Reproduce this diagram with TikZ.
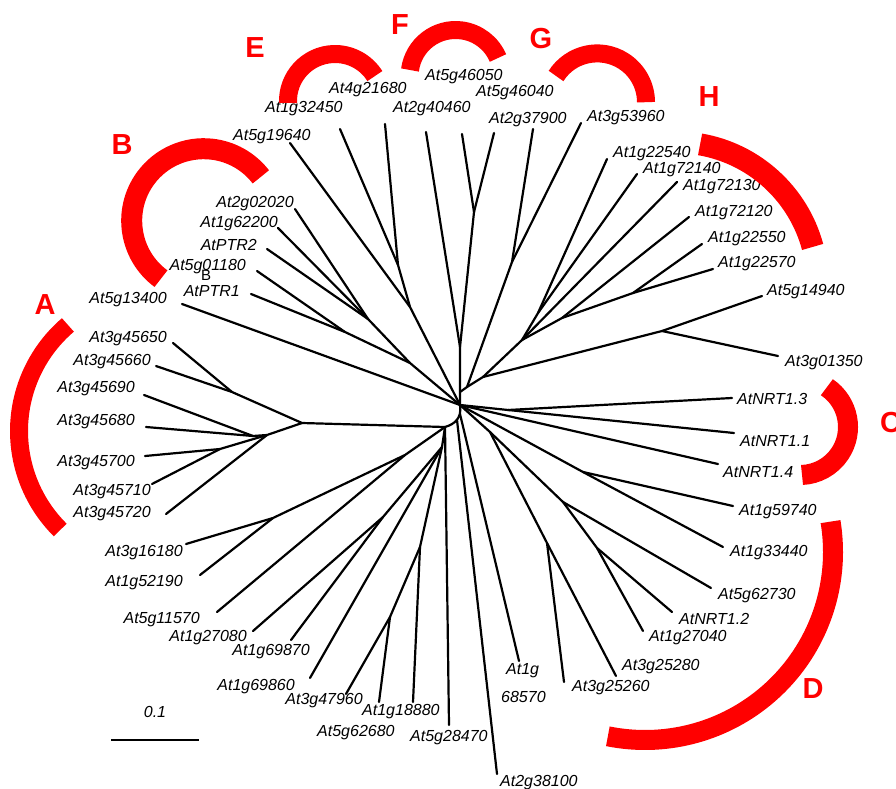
\documentclass[tikz,border=0pt]{standalone}
\usepackage{fontspec}
\setmainfont{Liberation Sans}
\begin{document}
\begin{tikzpicture}[x=1pt,y=-1pt,
  br/.style={line width=2.2pt, line join=round, line cap=round},
  lab/.style={font=\fontsize{16}{16}\selectfont\itshape, inner sep=0pt},
  grp/.style={font=\fontsize{29}{29}\selectfont\bfseries, text=red, inner sep=0pt},
  redarc/.style={draw=red, line width=18pt}]
\useasboundingbox (0,0) rectangle (896,789);

% ---------- coordinates ----------
\coordinate (C) at (460,405);
\coordinate (J1) at (460,392);
\coordinate (V1) at (460,347);
\coordinate (NF) at (474,212);
\coordinate (NE) at (398,265);
\coordinate (N19) at (410,307);
\coordinate (B1) at (345,332);
\coordinate (B2) at (368,319);
\coordinate (B3) at (410,363);
\coordinate (A0) at (302,423);
\coordinate (A1) at (232,392);
\coordinate (A2) at (253,436);
\coordinate (A3) at (220,449);
\coordinate (A4) at (267,435);
\coordinate (L0) at (445,427);
\coordinate (L1) at (405,455);
\coordinate (L2) at (273,518);
\coordinate (L3) at (442,447);
\coordinate (L4) at (383,517);
\coordinate (L6) at (420,547);
\coordinate (L7) at (390,617);
\coordinate (K1) at (457,420);
\coordinate (K2) at (460,414);
\coordinate (R1) at (467,387);
\coordinate (R2) at (483,377);
\coordinate (G0) at (512,262);
\coordinate (X2) at (522,340);
\coordinate (Y1) at (538,313);
\coordinate (Y2) at (562,318);
\coordinate (Y3) at (633,293);
\coordinate (N5) at (662,331);
\coordinate (NN) at (508,410);
\coordinate (M1) at (583,472);
\coordinate (D0) at (490,432);
\coordinate (D1) at (547,543);
\coordinate (D2) at (563,502);
\coordinate (D3) at (597,548);
% tips
\coordinate (t2g40460) at (426,132);
\coordinate (t5g46050) at (462,134);
\coordinate (t5g46040) at (494,133);
\coordinate (t1g32450) at (340,129);
\coordinate (t4g21680) at (385,124);
\coordinate (t5g19640) at (290,143);
\coordinate (t2g02020) at (295,209);
\coordinate (t1g62200) at (278,228);
\coordinate (tPTR2) at (267,249);
\coordinate (t5g01180) at (257,271);
\coordinate (tPTR1) at (251,294);
\coordinate (t5g13400) at (182,304);
\coordinate (t45650) at (173,343);
\coordinate (t45660) at (156,366);
\coordinate (t45690) at (144,395);
\coordinate (t45680) at (146,427);
\coordinate (t45700) at (145,456);
\coordinate (t45710) at (152,484);
\coordinate (t45720) at (166,514);
\coordinate (t3g16180) at (186,544);
\coordinate (t1g52190) at (200,575);
\coordinate (t5g11570) at (217,612);
\coordinate (t1g27080) at (253,631);
\coordinate (t1g69870) at (291,640);
\coordinate (t1g69860) at (310,678);
\coordinate (t3g47960) at (346,694);
\coordinate (t5g62680) at (379,702);
\coordinate (t1g18880) at (413,702);
\coordinate (t5g28470) at (449,725);
\coordinate (t2g38100) at (497,774);
\coordinate (t1g68570) at (519,661);
\coordinate (t3g25260) at (564,682);
\coordinate (t3g25280) at (616,676);
\coordinate (t1g27040) at (643,631);
\coordinate (tNRT12) at (672,612);
\coordinate (t5g62730) at (711,588);
\coordinate (t1g33440) at (723,547);
\coordinate (t1g59740) at (733,506);
\coordinate (tNRT14) at (718,464);
\coordinate (tNRT11) at (734,433);
\coordinate (tNRT13) at (732,398);
\coordinate (t3g01350) at (778,356);
\coordinate (t5g14940) at (762,296);
\coordinate (t1g22570) at (713,269);
\coordinate (t1g22550) at (702,244);
\coordinate (t1g72120) at (689,217);
\coordinate (t1g72130) at (677,182);
\coordinate (t1g72140) at (637,174);
\coordinate (t1g22540) at (607,159);
\coordinate (t3g53960) at (581,123);
\coordinate (t2g37900) at (533,129);

% ---------- branches ----------
\draw[br] (t2g40460) -- (V1) -- (C);
\draw[br] (t5g46050) -- (NF) -- (V1);
\draw[br] (t5g46040) -- (NF);
\draw[br] (t1g32450) -- (NE) -- (N19) -- (C);
\draw[br] (t4g21680) -- (NE);
\draw[br] (t5g19640) -- (N19);
\draw[br] (t2g02020) -- (B2) -- (B3) -- (C);
\draw[br] (t1g62200) -- (B2);
\draw[br] (tPTR2) -- (B2);
\draw[br] (t5g01180) -- (B1) -- (B3);
\draw[br] (tPTR1) -- (B1);
\draw[br] (t5g13400) -- (C);
% A group
\draw[br] (t45650) -- (A1);
\draw[br] (t45660) -- (A1) -- (A0) -- (L0);
\draw[br] (t45690) -- (A2) -- (A4) -- (A0);
\draw[br] (t45680) -- (A2);
\draw[br] (t45700) -- (A3) -- (A4);
\draw[br] (t45710) -- (A3);
\draw[br] (t45720) -- (A4);
% center arc
\draw[br] (C) .. controls (462,418) and (455,424) .. (L0);
% bottom left
\draw[br] (L0) -- (L1) -- (L2) -- (t3g16180);
\draw[br] (L2) -- (t1g52190);
\draw[br] (L1) -- (t5g11570);
\draw[br] (L0) -- (L3) -- (L4) -- (t1g27080);
\draw[br] (L4) -- (t1g69870);
\draw[br] (L3) -- (t1g69860);
\draw[br] (L3) -- (L6) -- (L7) -- (t3g47960);
\draw[br] (L7) -- (t5g62680);
\draw[br] (L6) -- (t1g18880);
\draw[br] (L0) -- (t5g28470);
\draw[br] (K1) -- (t2g38100);
\draw[br] (K2) -- (t1g68570);
% D group
\draw[br] (C) -- (D0) -- (D2) -- (t5g62730);
\draw[br] (D0) -- (D1) -- (t3g25280);
\draw[br] (D1) -- (t3g25260);
\draw[br] (D2) -- (D3) -- (tNRT12);
\draw[br] (D3) -- (t1g27040);
\draw[br] (C) -- (M1) -- (t1g33440);
\draw[br] (M1) -- (t1g59740);
% NRT
\draw[br] (C) -- (tNRT14);
\draw[br] (C) -- (NN) -- (tNRT13);
\draw[br] (NN) -- (tNRT11);
% upper right
\draw[br] (J1) -- (R1) -- (G0) -- (t2g37900);
\draw[br] (G0) -- (t3g53960);
\draw[br] (R1) -- (R2) -- (N5) -- (t5g14940);
\draw[br] (N5) -- (t3g01350);
\draw[br] (R2) -- (X2) -- (Y1) -- (t1g22540);
\draw[br] (Y1) -- (t1g72140);
\draw[br] (X2) -- (t1g72130);
\draw[br] (X2) -- (Y2) -- (t1g72120);
\draw[br] (Y2) -- (Y3) -- (t1g22550);
\draw[br] (Y3) -- (t1g22570);

% ---------- labels ----------
\node[lab, anchor=west] (n1g32450) at (265,109) {At1g32450};
\node[lab, anchor=west] (n4g21680) at (329,90) {At4g21680};
\node[lab, anchor=west] (n5g46050) at (425,77) {At5g46050};
\node[lab, anchor=west] (n5g46040) at (476,93) {At5g46040};
\node[lab, anchor=west] (n2g40460) at (393,109) {At2g40460};
\node[lab, anchor=west] (n2g37900) at (489,120) {At2g37900};
\node[lab, anchor=west] (n3g53960) at (587,118) {At3g53960};
\node[lab, anchor=west] (n5g19640) at (233,137) {At5g19640};
\node[lab, anchor=west] (n1g22540) at (613,154) {At1g22540};
\node[lab, anchor=west] (n1g72140) at (643,170) {At1g72140};
\node[lab, anchor=west] (n1g72130) at (683,187) {At1g72130};
\node[lab, anchor=west] (n1g72120) at (695,213) {At1g72120};
\node[lab, anchor=west] (n1g22550) at (708,239) {At1g22550};
\node[lab, anchor=west] (n1g22570) at (718,264) {At1g22570};
\node[lab, anchor=west] (n5g14940) at (767,292) {At5g14940};
\node[lab, anchor=west] (n3g01350) at (785,363) {At3g01350};
\node[lab, anchor=west] (nNRT13) at (737,399) {AtNRT1.3};
\node[lab, anchor=west] (nNRT11) at (740,441) {AtNRT1.1};
\node[lab, anchor=west] (nNRT14) at (723,472) {AtNRT1.4};
\node[lab, anchor=west] (n1g59740) at (739,512) {At1g59740};
\node[lab, anchor=west] (n1g33440) at (730,553) {At1g33440};
\node[lab, anchor=west] (n5g62730) at (718,596) {At5g62730};
\node[lab, anchor=west] (nNRT12) at (679,619) {AtNRT1.2};
\node[lab, anchor=west] (n1g27040) at (649,638) {At1g27040};
\node[lab, anchor=west] (n3g25280) at (622,667) {At3g25280};
\node[lab, anchor=west] (n3g25260) at (572,688) {At3g25260};
\node[lab, anchor=west] (n1ga) at (506,671) {At1g};
\node[lab, anchor=west] (n1gb) at (501,697) {68570};
\node[lab, anchor=west] (n2g38100) at (500,783) {At2g38100};
\node[lab, anchor=west] (n5g28470) at (410,738) {At5g28470};
\node[lab, anchor=west] (n5g62680) at (317,733) {At5g62680};
\node[lab, anchor=west] (n1g18880) at (362,712) {At1g18880};
\node[lab, anchor=east] (n3g47960) at (363,701) {At3g47960};
\node[lab, anchor=east] (n1g69860) at (295,687) {At1g69860};
\node[lab, anchor=east] (n1g69870) at (310,652) {At1g69870};
\node[lab, anchor=east] (n1g27080) at (247,638) {At1g27080};
\node[lab, anchor=east] (n5g11570) at (200,620) {At5g11570};
\node[lab, anchor=east] (n1g52190) at (183,583) {At1g52190};
\node[lab, anchor=east] (n3g16180) at (183,553) {At3g16180};
\node[lab, anchor=east] (n45720) at (151,514) {At3g45720};
\node[lab, anchor=east] (n45710) at (151,492) {At3g45710};
\node[lab, anchor=east] (n45700) at (135,463) {At3g45700};
\node[lab, anchor=east] (n45680) at (135,422) {At3g45680};
\node[lab, anchor=east] (n45690) at (135,389) {At3g45690};
\node[lab, anchor=east] (n45660) at (151,362) {At3g45660};
\node[lab, anchor=east] (n45650) at (167,339) {At3g45650};
\node[lab, anchor=east] (n5g13400) at (167,300) {At5g13400};
\node[lab, anchor=east] (nPTR1) at (240,291) {AtPTR1};
\node[lab, anchor=east] (n5g01180) at (246,267) {At5g01180};
\node[lab, anchor=east] (nPTR2) at (257,245) {AtPTR2};
\node[lab, anchor=east] (n1g62200) at (278,224) {At1g62200};
\node[lab, anchor=east] (n2g02020) at (294,204) {At2g02020};
\node[font=\fontsize{15}{15}\selectfont, inner sep=0pt] (strayB) at (206,275) {B};

% scale bar
\coordinate (sb1) at (111,740);
\coordinate (sb2) at (199,740);
\draw[line width=2.2pt] (sb1) -- (sb2);
\node[lab] (sbl) at (155,712) {0.1};

% ---------- red group arcs ----------
\coordinate (cA) at (158.5,431);
\draw[redarc] (cA) ++(134.8:139.5) arc[start angle=134.8, end angle=229.5, radius=139.5];
\coordinate (cB) at (203.7,220.7);
\draw[redarc, line width=21pt] (cB) ++(126.4:72) arc[start angle=126.4, end angle=322.5, radius=72];
\coordinate (cE) at (335,101);
\draw[redarc] (cE) ++(177.6:47) arc[start angle=177.6, end angle=328, radius=47];
\coordinate (cF) at (455.6,76);
\draw[redarc] (cF) ++(187.5:46) arc[start angle=187.5, end angle=337, radius=46];
\coordinate (cG) at (597.2,102.2);
\draw[redarc] (cG) ++(212.5:48.8) arc[start angle=212.5, end angle=360, radius=48.8];
\coordinate (cH) at (676,283.8);
\draw[redarc, line width=22pt] (cH) ++(279.8:141.5) arc[start angle=279.8, end angle=344.9, radius=141.5];
\coordinate (cC) at (800,427);
\draw[redarc, line width=20pt] (cC) ++(-56:48) arc[start angle=-56, end angle=87.6, radius=48];
\coordinate (cD) at (645,552);
\draw[redarc, line width=20pt] (cD) ++(-9.3:188) arc[start angle=-9.3, end angle=101.4, radius=188];

% group letters
\node[grp] (gA) at (45,305) {A};
\node[grp] (gB) at (122,145) {B};
\node[grp] (gE) at (255,48) {E};
\node[grp] (gF) at (400,25) {F};
\node[grp] (gG) at (541,39) {G};
\node[grp] (gH) at (709,97) {H};
\node[grp, anchor=west] (gC) at (880,423) {C};
\node[grp] (gD) at (813,689) {D};
\end{tikzpicture}
\end{document}
